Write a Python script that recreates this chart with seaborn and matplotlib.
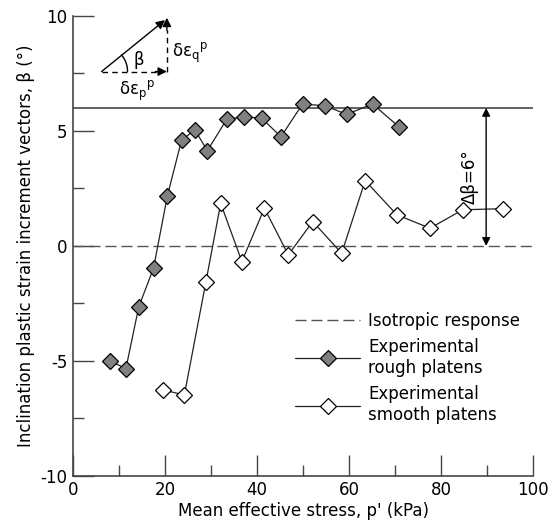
import matplotlib
matplotlib.use("Agg")
import matplotlib.pyplot as plt
import seaborn as sns
import pandas as pd
import numpy as np
from matplotlib.ticker import MultipleLocator

# ---- data ----
rough_p = [8.0, 11.5, 14.3, 17.5, 20.5, 23.6, 26.5, 29.2, 33.4, 37.2, 41.0, 45.2, 49.9, 54.8, 59.5, 65.1, 70.9]
rough_beta = [-5.0, -5.33, -2.64, -0.97, 2.17, 4.6, 5.04, 4.14, 5.5, 5.62, 5.55, 4.75, 6.17, 6.09, 5.72, 6.17, 5.17]
smooth_p = [19.6, 24.2, 28.9, 32.1, 36.7, 41.6, 46.8, 52.1, 58.4, 63.5, 70.4, 77.6, 84.7, 93.4]
smooth_beta = [-6.26, -6.48, -1.55, 1.85, -0.68, 1.64, -0.39, 1.06, -0.32, 2.84, 1.35, 0.77, 1.57, 1.62]
isotropic_beta = 0.0
limit_beta = 6.0
delta_beta_label = "Δβ=6°"
x_ticks = [0, 20, 40, 60, 80, 100]
y_ticks = [-10, -5, 0, 5, 10]

sns.set_style("white")
plt.rcParams["font.family"] = ["DejaVu Sans"]
plt.rcParams["font.size"] = 11
plt.rcParams["axes.unicode_minus"] = False
plt.rcParams["text.color"] = "black"
plt.rcParams["axes.labelcolor"] = "black"
plt.rcParams["xtick.color"] = "black"
plt.rcParams["ytick.color"] = "black"

fig = plt.figure(figsize=(5.49, 5.30), dpi=100)
ax = fig.add_axes([0.133, 0.102, 0.838, 0.868])

ax.axhline(isotropic_beta, color="#555555", lw=1.0, ls=(0, (8, 3.5)), label="Isotropic response", zorder=1)
ax.axhline(limit_beta, color="#555555", lw=1.3, zorder=1)

df_r = pd.DataFrame({"p": rough_p, "beta": rough_beta})
df_s = pd.DataFrame({"p": smooth_p, "beta": smooth_beta})
sns.lineplot(data=df_r, x="p", y="beta", ax=ax, color="#222222", lw=0.9, marker="D",
             markersize=8, markerfacecolor="#808080", markeredgecolor="black",
             markeredgewidth=0.9, sort=False, label="Experimental\nrough platens", zorder=3)
sns.lineplot(data=df_s, x="p", y="beta", ax=ax, color="#222222", lw=0.9, marker="D",
             markersize=8, markerfacecolor="white", markeredgecolor="black",
             markeredgewidth=0.9, sort=False, label="Experimental\nsmooth platens", zorder=3)

ax.set_xlim(0, 100)
ax.set_ylim(-10, 10)
ax.set_xticks(x_ticks)
ax.set_yticks(y_ticks)
ax.xaxis.set_minor_locator(MultipleLocator(10))
ax.yaxis.set_minor_locator(MultipleLocator(2.5))
ax.tick_params(which="both", bottom=True, left=True, top=False, right=False)
ax.tick_params(which="major", direction="in", length=15, width=1, color="#444444",
               labelcolor="black", labelsize=12, pad=4)
ax.tick_params(which="minor", direction="in", length=8, width=1, color="#444444")
for s in ["top", "right"]:
    ax.spines[s].set_visible(False)
for s in ["left", "bottom"]:
    ax.spines[s].set_color("#444444")
    ax.spines[s].set_linewidth(1.2)

ax.set_xlabel("Mean effective stress, p' (kPa)", fontsize=12, labelpad=2, color="black")
ax.set_ylabel("Inclination plastic strain increment vectors, β (°)", fontsize=12, labelpad=4, color="black")

# delta beta arrow
ax.annotate("", xy=(89.8, isotropic_beta), xytext=(89.8, limit_beta),
            arrowprops=dict(arrowstyle="<|-|>", color="black", lw=1.0,
                            mutation_scale=12, shrinkA=0, shrinkB=0))
ax.text(86.3, 3.0, delta_beta_label, rotation=90, ha="center", va="center", fontsize=12)

# inset vector diagram
x0, y0 = 6.2, 7.58
x1, y1 = 20.4, 9.87
ax.annotate("", xy=(x1 - 0.4, y1 - 0.05), xytext=(x0, y0),
            arrowprops=dict(arrowstyle="-|>", color="black", lw=1.0, mutation_scale=13, shrinkA=0, shrinkB=0))
ax.plot([x0, x1 - 1.5], [y0, y0], color="black", lw=1.0, ls=(0, (4, 3)))
ax.annotate("", xy=(x1, y0), xytext=(x1 - 2.5, y0),
            arrowprops=dict(arrowstyle="-|>", color="black", lw=1.0, mutation_scale=13, shrinkA=0, shrinkB=0))
ax.plot([x1, x1], [y0, y1 - 0.5], color="black", lw=1.0, ls=(0, (4, 3)))
ax.annotate("", xy=(x1, y1 + 0.05), xytext=(x1, y1 - 0.5),
            arrowprops=dict(arrowstyle="-|>", color="black", lw=1.0, mutation_scale=13, shrinkA=0, shrinkB=0))
# angle arc (circle of ~26 px radius on screen)
t = np.linspace(0, np.deg2rad(40), 30)
ax.plot(x0 + (26 / 4.6) * np.cos(t), y0 + (26 / 23.0) * np.sin(t), color="black", lw=1.0)
ax.text(14.4, 8.1, "β", fontsize=12, ha="center", va="center")
ax.text(21.6, 8.4, "δε$_\\mathregular{q}$$^\\mathregular{p}$", fontsize=12, ha="left", va="center")
ax.text(14.0, 6.75, "δε$_\\mathregular{p}$$^\\mathregular{p}$", fontsize=12, ha="center", va="center")

handles, labels = ax.get_legend_handles_labels()
ax.legend(handles, labels, loc="upper left", bbox_to_anchor=(0.45, 0.39), frameon=False,
          fontsize=12, handlelength=3.9, handletextpad=0.5, labelspacing=0.5)

fig.savefig("out.png", dpi=100)
